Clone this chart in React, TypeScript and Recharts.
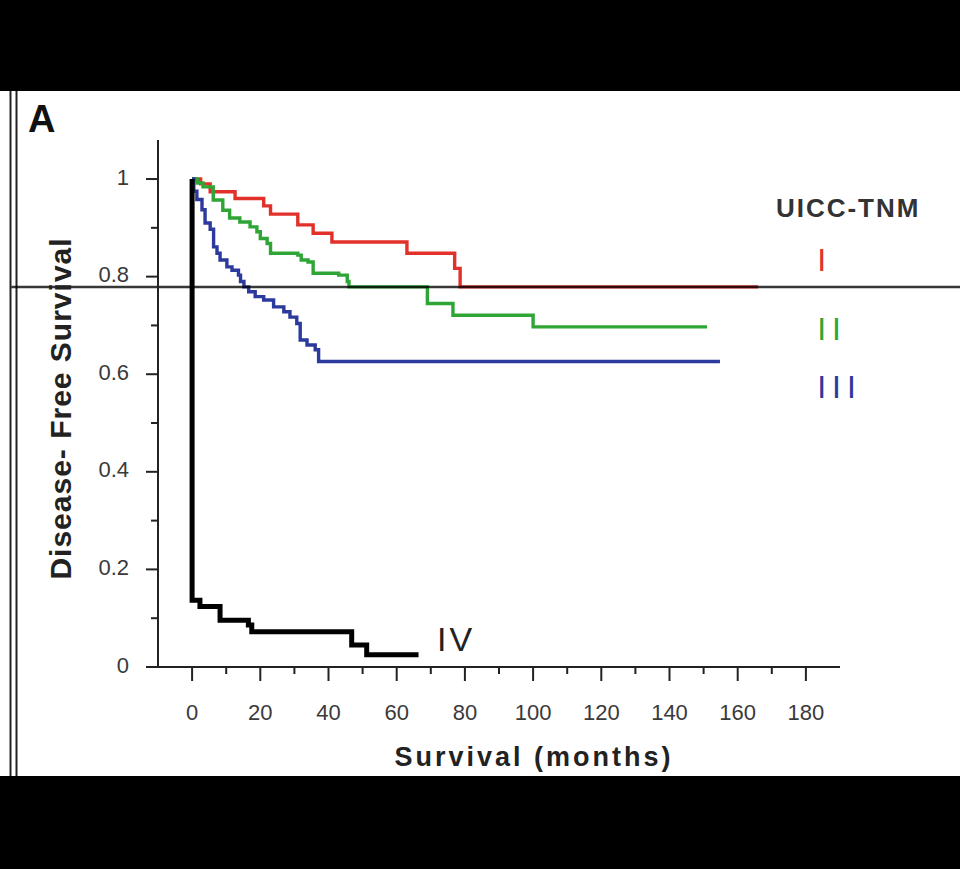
import React from 'react';
import { LineChart, Line, XAxis, YAxis, ReferenceLine, ReferenceDot, Label } from 'recharts';

const FONT = '"Liberation Sans", Arial, Helvetica, sans-serif';

// Kaplan-Meier step data (months, disease-free survival)
const stageIMonths = [0, 2.5, 5.3, 12.6, 21, 23, 31, 35.5, 41, 63, 77, 78.6, 166];
const stageISurv = [1, 0.99, 0.974, 0.96, 0.945, 0.928, 0.906, 0.889, 0.871, 0.848, 0.817, 0.779, 0.779];

const stageIIMonths = [0, 1.5, 3.2, 6.2, 9, 11, 14, 17, 19, 20, 22, 23, 31, 32, 34, 35.5, 43, 45.5, 46, 69, 76.5, 100, 151];
const stageIISurv = [1, 0.992, 0.984, 0.957, 0.936, 0.92, 0.912, 0.902, 0.892, 0.878, 0.868, 0.848, 0.844, 0.834, 0.83, 0.807, 0.803, 0.79, 0.779, 0.745, 0.721, 0.697, 0.697];

const stageIIIMonths = [0, 0.5, 1.4, 2.9, 3.8, 5.3, 6.3, 7.3, 8.2, 10.2, 11.7, 13.6, 14.2, 15.2, 16.6, 18.5, 21, 23.9, 26.9, 28.7, 30.7, 31.7, 33.7, 36.1, 37.1, 154.8];
const stageIIISurv = [1, 0.975, 0.958, 0.937, 0.91, 0.897, 0.861, 0.848, 0.834, 0.82, 0.813, 0.803, 0.79, 0.779, 0.769, 0.759, 0.752, 0.738, 0.728, 0.717, 0.704, 0.67, 0.66, 0.65, 0.626, 0.626];

const stageIVMonths = [0, 0, 2.3, 8.2, 16.5, 17.5, 46.8, 51.2, 66.4];
const stageIVSurv = [1, 0.137, 0.124, 0.096, 0.086, 0.072, 0.045, 0.025, 0.025];

const xMajorTicks = [0, 20, 40, 60, 80, 100, 120, 140, 160, 180];
const xMinorTicks = [10, 30, 50, 70, 90, 110, 130, 150, 170];
const yMajorTicks = [0, 0.2, 0.4, 0.6, 0.8, 1];
const yMajorLabels = ['0', '0.2', '0.4', '0.6', '0.8', '1'];
const yMinorTicks = [0.1, 0.3, 0.5, 0.7, 0.9];

const stageNames = ['I', 'II', 'III', 'IV'];
const stageColors = ['#e2302b', '#2fa536', '#2b3a9c', '#000000'];
const legendTitle = 'UICC-TNM';
const refLevel = 0.779;

const toSeries = (t: number[], s: number[]) => t.map((v, i) => ({ t: v, s: s[i] }));
const seriesData = [
  toSeries(stageIMonths, stageISurv),
  toSeries(stageIIMonths, stageIISurv),
  toSeries(stageIIIMonths, stageIIISurv),
  toSeries(stageIVMonths, stageIVSurv),
];

const xTicks = [...xMajorTicks, ...xMinorTicks].sort((a, b) => a - b);
const yTicks = [...yMajorTicks, ...yMinorTicks].sort((a, b) => a - b);

const XTick = (props: any) => {
  const { x, y, payload } = props;
  const v = payload.value;
  const major = xMajorTicks.includes(v);
  return (
    <g>
      <line x1={x} x2={x} y1={y} y2={y + (major ? 14 : 7)} stroke="#222" strokeWidth={2} />
      {major && (
        <text x={x} y={y + 45} textAnchor="middle" dominantBaseline="central" fontSize={22} fill="#3a3a3a" fontFamily={FONT}>
          {v}
        </text>
      )}
    </g>
  );
};

const YTick = (props: any) => {
  const { x, y, payload } = props;
  const v = payload.value;
  const idx = yMajorTicks.findIndex((m) => Math.abs(m - v) < 1e-9);
  const major = idx >= 0;
  return (
    <g>
      <line x1={x - (major ? 12 : 7)} x2={x} y1={y} y2={y} stroke="#222" strokeWidth={2} />
      {major && (
        <text x={x - 29} y={y - 2} textAnchor="end" dominantBaseline="central" fontSize={22} fill="#3a3a3a" fontFamily={FONT}>
          {yMajorLabels[idx]}
        </text>
      )}
    </g>
  );
};

const makeText = (text: string, color: string, size: number, spacing: number, anchor: string, weight: string = 'normal') =>
  (p: any) => {
    const vb = p.viewBox || {};
    const cx = vb.x + (vb.width || 0) / 2;
    const cy = vb.y + (vb.height || 0) / 2;
    return (
      <text
        x={cx}
        y={cy}
        textAnchor={anchor}
        dominantBaseline="central"
        fontSize={size}
        fontWeight={weight}
        letterSpacing={spacing}
        fill={color}
        fontFamily={FONT}
      >
        {text}
      </text>
    );
  };

export default function App() {
  return (
    <div style={{ position: 'fixed', left: 0, top: 0, width: 960, height: 869, background: '#fff', overflow: 'hidden', fontFamily: FONT }}>
      <svg width={960} height={869} style={{ position: 'absolute', left: 0, top: 0 }}>
        <rect x={0} y={0} width={960} height={91} fill="#000" />
        <rect x={0} y={776} width={960} height={93} fill="#000" />
        <line x1={10.5} x2={10.5} y1={91} y2={776} stroke="#222" strokeWidth={2} />
        <line x1={16.5} x2={16.5} y1={91} y2={776} stroke="#222" strokeWidth={2} />
        <text x={28} y={132} fontSize={38} fontWeight="bold" fill="#111" fontFamily={FONT}>A</text>
      </svg>
      <div style={{ position: 'absolute', left: 0, top: 0 }}>
        <LineChart width={960} height={869} margin={{ top: 140, right: 120, bottom: 172, left: 98 }} style={{ fontFamily: FONT }}>
          <XAxis
            type="number"
            dataKey="t"
            domain={[-10, 190]}
            ticks={xTicks}
            interval={0}
            height={30}
            tickSize={0}
            tickMargin={0}
            tickLine={false}
            axisLine={{ stroke: '#222', strokeWidth: 2 }}
            tick={<XTick />}
            allowDataOverflow
          >
            <Label
              content={(p: any) => {
                const vb = p.viewBox;
                return (
                  <text
                    x={vb.x + vb.width / 2 + 35}
                    y={vb.y + 90}
                    textAnchor="middle"
                    dominantBaseline="central"
                    fontSize={27}
                    fontWeight="bold"
                    letterSpacing={3}
                    fill="#222"
                    fontFamily={FONT}
                  >
                    Survival (months)
                  </text>
                );
              }}
            />
          </XAxis>
          <YAxis
            type="number"
            domain={[0, 1.08]}
            ticks={yTicks}
            interval={0}
            width={60}
            tickSize={0}
            tickMargin={0}
            tickLine={false}
            axisLine={{ stroke: '#222', strokeWidth: 2 }}
            tick={<YTick />}
            allowDataOverflow
          >
            <Label
              content={(p: any) => {
                const vb = p.viewBox;
                const cx = vb.x - 38;
                const cy = vb.y + vb.height / 2 + 5;
                return (
                  <text
                    x={cx}
                    y={cy}
                    transform={`rotate(-90 ${cx} ${cy})`}
                    textAnchor="middle"
                    dominantBaseline="central"
                    fontSize={30}
                    fontWeight="bold"
                    letterSpacing={1}
                    fill="#222"
                    fontFamily={FONT}
                  >
                    Disease- Free Survival
                  </text>
                );
              }}
            />
          </YAxis>
          {seriesData.map((d, i) => (
            <Line
              key={stageNames[i]}
              data={d}
              dataKey="s"
              type="stepAfter"
              stroke={stageColors[i]}
              strokeWidth={i === 3 ? 5 : 3.4}
              dot={false}
              activeDot={false}
              isAnimationActive={false}
            />
          ))}
          <ReferenceLine
            segment={[{ x: -53, y: refLevel }, { x: 240, y: refLevel }]}
            stroke="#000"
            strokeOpacity={0.78}
            strokeWidth={2.5}
            ifOverflow="visible"
          />
          <ReferenceDot x={192.4} y={0.9406} r={1} fill="none" stroke="none" ifOverflow="visible"
            label={{ content: makeText(legendTitle, '#333', 26, 2, 'middle', 'bold') }} />
          <ReferenceDot x={183.3} y={0.834} r={1} fill="none" stroke="none" ifOverflow="visible"
            label={{ content: makeText(stageNames[0], stageColors[0], 32, 6, 'start') }} />
          <ReferenceDot x={183.3} y={0.693} r={1} fill="none" stroke="none" ifOverflow="visible"
            label={{ content: makeText(stageNames[1], stageColors[1], 32, 6, 'start') }} />
          <ReferenceDot x={183.3} y={0.574} r={1} fill="none" stroke="none" ifOverflow="visible"
            label={{ content: makeText(stageNames[2], stageColors[2], 32, 6, 'start') }} />
          <ReferenceDot x={71.8} y={0.057} r={1} fill="none" stroke="none" ifOverflow="visible"
            label={{ content: makeText(stageNames[3], '#222', 34, 3, 'start') }} />
        </LineChart>
      </div>
    </div>
  );
}
